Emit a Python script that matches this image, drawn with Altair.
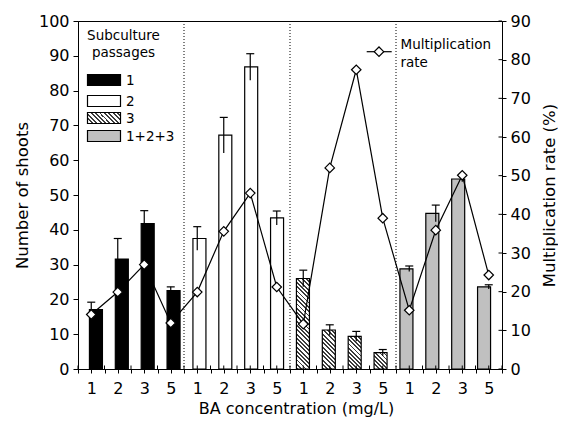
import json
import numpy as np
import pandas as pd
import altair as alt

# ---------------- data ----------------
conc_labels = ["1", "2", "3", "5"]
passages = ["1", "2", "3", "1+2+3"]

shoots_p1 = [17.1, 31.6, 41.8, 22.5]
err_p1 = [2.1, 5.9, 3.7, 1.1]
shoots_p2 = [37.5, 67.2, 86.8, 43.4]
err_p2 = [3.4, 5.1, 3.8, 2.0]
shoots_p3 = [26.0, 11.2, 9.4, 4.7]
err_p3 = [2.4, 1.5, 1.4, 0.9]
shoots_all = [28.8, 44.7, 54.6, 23.6]
err_all = [0.8, 2.4, 0.8, 0.6]

rate_p1 = [14.1, 19.9, 27.0, 11.9]
rate_p2 = [19.9, 35.6, 45.5, 21.2]
rate_p3 = [11.6, 52.0, 77.4, 39.0]
rate_all = [15.2, 35.9, 50.1, 24.3]

left_ticks = list(range(0, 101, 10))
right_ticks = list(range(0, 91, 10))

# ---------------- layout / style ----------------
W, H = 424, 348
PAD = {"left": 70, "top": 13, "right": 56, "bottom": 49}
FONT = "DejaVu Sans"
BAR_W = 13
GRAY = "#c0c0c0"

rows = []
for g, (p, s, e, r) in enumerate(zip(passages,
                                      [shoots_p1, shoots_p2, shoots_p3, shoots_all],
                                      [err_p1, err_p2, err_p3, err_all],
                                      [rate_p1, rate_p2, rate_p3, rate_all])):
    for i, c in enumerate(conc_labels):
        rows.append(dict(group=p, gi=g, conc=c, pos=g * len(conc_labels) + i + 0.5,
                         shoots=s[i], err=e[i], lo=s[i] - e[i], hi=s[i] + e[i], rate=r[i]))
df = pd.DataFrame(rows)
n = len(df)

XT = "BA concentration (mg/L)"
YLT = "Number of shoots"
YRT = "Multiplication rate (%)"

tick_vals = [k / 2 for k in range(2 * n + 1)]
label_expr = (f"(datum.value % 1) == 0.5 ? {json.dumps(conc_labels)}"
              f"[floor(datum.value) % {len(conc_labels)}] : ''")


def xscale():
    return alt.Scale(domain=[0, n], nice=False, zero=False)


def ylscale():
    return alt.Scale(domain=[left_ticks[0], left_ticks[-1]], nice=False, zero=False)


def yrscale():
    return alt.Scale(domain=[right_ticks[0], right_ticks[-1]], nice=False, zero=False)


x_axis = alt.Axis(values=tick_vals, labelExpr=label_expr, tickSize=4, labelPadding=20,
                  labelBaseline="alphabetic", labelFontSize=16, labelFlush=False,
                  labelOverlap=False, titleFontSize=16, titleY=44, titleX=218,
                  titleBaseline="alphabetic", titleAlign="center", grid=False)
yl_axis = alt.Axis(values=left_ticks, orient="left", tickSize=5, labelPadding=4,
                   labelFontSize=16, titleFontSize=16.5, titleAngle=270, titleX=-51,
                   titleY=H / 2, titleBaseline="alphabetic", titleAlign="center", grid=False)
yr_axis = alt.Axis(values=right_ticks, orient="right", tickSize=4, labelPadding=4,
                   labelFontSize=16, titleFontSize=16.5, titleAngle=270, titleX=52,
                   titleY=H / 2, titleBaseline="alphabetic", titleAlign="center", grid=False)


def X(field="pos", axis=None):
    return alt.X(f"{field}:Q", scale=xscale(), axis=axis, title=XT)


def YL(field="shoots", axis=None):
    return alt.Y(f"{field}:Q", scale=ylscale(), axis=axis, title=YLT)


def YR(field="rate", axis=None):
    return alt.Y(f"{field}:Q", scale=yrscale(), axis=axis, title=YRT)


def hatch(w, h, period=3.0, duty=0.42, dark="#3c3c3c", light="white"):
    a = (w + h) / (w * w + h * h)
    L = (w + h) / np.sqrt(2)
    k = max(1, int(round(L / period)))
    stops = []
    for j in range(k):
        o0, o1, o2 = j / k, (j + duty) / k, (j + 1) / k
        stops += [alt.GradientStop(offset=round(o0, 5), color=dark),
                  alt.GradientStop(offset=round(o1, 5), color=dark),
                  alt.GradientStop(offset=round(o1, 5), color=light),
                  alt.GradientStop(offset=round(o2, 5), color=light)]
    return alt.LinearGradient(gradient="linear", stops=stops, x1=0, y1=1,
                              x2=float(a * w), y2=float(1 - a * h))


layers = []

# axes carriers (invisible marks holding the three axes)
layers.append(alt.Chart(df).mark_point(opacity=0).encode(x=X(axis=x_axis), y=YL(axis=yl_axis)))
layers.append(alt.Chart(df).mark_point(opacity=0).encode(x=X(), y=YR(axis=yr_axis)))

# separators between subculture passages
seps = pd.DataFrame({"s": [len(conc_labels) * k for k in range(1, len(passages))]})
layers.append(alt.Chart(seps).mark_rule(strokeDash=[1, 2], color="black", strokeWidth=1).encode(
    x=X("s"), y=alt.value(0), y2=alt.value(H)))

# bars
solid = df[df.gi != 2]
layers.append(alt.Chart(solid).mark_bar(size=BAR_W, stroke="black", strokeWidth=1.2).encode(
    x=X(), y=YL(),
    fill=alt.Fill("group:N", legend=None,
                  scale=alt.Scale(domain=[passages[0], passages[1], passages[3]],
                                  range=["black", "white", GRAY]))))
for idx in df.index[df.gi == 2]:
    sub = df.loc[[idx]]
    hpx = sub.shoots.iloc[0] * H / (left_ticks[-1] - left_ticks[0])
    layers.append(alt.Chart(sub).mark_bar(size=BAR_W, stroke="black", strokeWidth=1.2,
                                          fill=hatch(BAR_W, hpx)).encode(x=X(), y=YL()))

# error bars
layers.append(alt.Chart(df).mark_rule(color="black", strokeWidth=1.2).encode(
    x=X(), y=YL("lo"), y2="hi:Q"))
layers.append(alt.Chart(df).mark_tick(orient="horizontal", size=8, thickness=1.2,
                                      color="black", opacity=1).encode(x=X(), y=YL("hi")))

# inward tick halves
xt = pd.DataFrame({"t": tick_vals})
layers.append(alt.Chart(xt).mark_rule(color="black", strokeWidth=1).encode(
    x=X("t"), y=alt.value(H), y2=alt.value(H - 3.5)))
rt = pd.DataFrame({"v": right_ticks})
layers.append(alt.Chart(rt).mark_rule(color="black", strokeWidth=1).encode(
    y=YR("v"), x=alt.value(W), x2=alt.value(W - 3.5)))

# multiplication rate line
layers.append(alt.Chart(df).mark_line(color="black", strokeWidth=1.2).encode(x=X(), y=YR()))
layers.append(alt.Chart(df).mark_point(shape="diamond", filled=True, fill="white", stroke="black",
                                       strokeWidth=1.2, size=90, opacity=1).encode(x=X(), y=YR()))

# ---------------- legends (decorations) ----------------
dummy = pd.DataFrame({"d": [0]})


def text(txt, x, y, align="left", baseline="alphabetic", size=13.5):
    return alt.Chart(dummy).mark_text(text=txt, align=align, baseline=baseline, font=FONT,
                                      fontSize=size, color="black").encode(
        x=alt.value(x), y=alt.value(y))


def swatch(x0, x1, y0, y1, fill):
    return alt.Chart(dummy).mark_rect(fill=fill, stroke="black", strokeWidth=1.2).encode(
        x=alt.value(x0), x2=alt.value(x1), y=alt.value(y0), y2=alt.value(y1))


sx0, sx1 = 9.5, 42.5
row_c = [59, 80, 97, 115]
fills = ["black", "white", hatch(sx1 - sx0, 11, period=3.0), GRAY]
layers += [text("Subculture", 45.5, 18.5, align="center"),
           text("passages", 45.5, 36.3, align="center")]
for c, f, lab in zip(row_c, fills, passages):
    layers.append(swatch(sx0, sx1, c - 5.5, c + 5.5, f))
    layers.append(text(lab, 48, c + 0.5, baseline="middle"))

layers.append(alt.Chart(dummy).mark_rule(color="black", strokeWidth=1.2).encode(
    x=alt.value(288.7), x2=alt.value(313.7), y=alt.value(30.7)))
layers.append(alt.Chart(dummy).mark_point(shape="diamond", filled=True, fill="white",
                                          stroke="black", strokeWidth=1.2, size=90,
                                          opacity=1).encode(x=alt.value(301), y=alt.value(30.7)))
layers += [text("Multiplication", 322.5, 28.3), text("rate", 322.5, 45.7)]

chart = alt.layer(*layers).resolve_scale(x="independent", y="independent").properties(
    width=W, height=H,
    autosize=alt.AutoSizeParams(type="none"),
    padding=PAD,
    background="white",
).configure_view(stroke="black", strokeWidth=1).configure_axis(
    domainColor="black", tickColor="black", labelColor="black", titleColor="black",
    labelFont=FONT, titleFont=FONT, titleFontWeight="normal", domainWidth=1, tickWidth=1,
)

chart.save("out.html", embed_options={"renderer": "svg", "actions": False})
